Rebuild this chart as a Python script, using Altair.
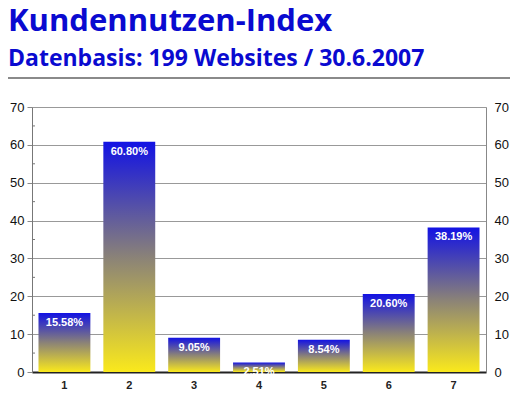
import altair as alt
import pandas as pd

categories = ["1", "2", "3", "4", "5", "6", "7"]
values = [15.58, 60.80, 9.05, 2.51, 8.54, 20.60, 38.19]
labels = ["15.58%", "60.80%", "9.05%", "2.51%", "8.54%", "20.60%", "38.19%"]
major_ticks = [0, 10, 20, 30, 40, 50, 60, 70]
minor_ticks = [5, 15, 25, 35, 45, 55, 65]

df = pd.DataFrame({"cat": categories, "value": values, "label": labels})
minor = pd.DataFrame({"v": minor_ticks})
sep = pd.DataFrame({"a": [0]})

grad = alt.Gradient(
    gradient="linear", x1=0, y1=0, x2=0, y2=1,
    stops=[
        alt.GradientStop(offset=0, color="#1212e4"),
        alt.GradientStop(offset=0.5, color="#8a8278"),
        alt.GradientStop(offset=1, color="#fae91c"),
    ],
)

yscale = alt.Scale(domain=[0, 70], nice=False)
x = alt.X(
    "cat:N", sort=categories,
    scale=alt.Scale(paddingInner=0.2, paddingOuter=0.1),
    axis=alt.Axis(title=None, labelAngle=0, ticks=False, domainColor="#222",
                  domainWidth=2, labelFont="Liberation Sans", labelFontWeight="bold",
                  labelFontSize=11, labelColor="#222", labelPadding=7),
)

bars = alt.Chart(df).mark_bar(color=grad).encode(
    x=x,
    y=alt.Y("value:Q", scale=yscale,
            axis=alt.Axis(title=None, values=major_ticks, grid=True, gridColor="#999",
                          tickSize=5, tickColor="#888", domainColor="#777",
                          labelFontSize=13, labelColor="#111", labelFont="Liberation Sans",
                          labelPadding=3)),
)

texts = alt.Chart(df).mark_text(color="white", fontWeight="bold", fontSize=11,
                                baseline="top", dy=4, font="Liberation Sans").encode(
    x=x,
    y=alt.Y("value:Q", scale=yscale, axis=None),
    text="label:N",
)

minors = alt.Chart(minor).mark_rule(color="#777").encode(
    y=alt.Y("v:Q", scale=yscale,
            axis=alt.Axis(orient="right", title=None, values=major_ticks, grid=False,
                          ticks=False, domainColor="#888", labelFontSize=13,
                          labelColor="#111", labelFont="Liberation Sans", labelPadding=8)),
    x=alt.value(0),
    x2=alt.value(3),
)

line = alt.Chart(sep).mark_rule(color="#8a8a8a", strokeWidth=2).encode(
    x=alt.value(-33), x2=alt.value(490), y=alt.value(-29)
)

chart = alt.layer(bars, texts, minors, line).resolve_axis(y="independent").properties(
    width=454, height=265,
    autosize="none",
    padding={"left": 24, "top": 99, "right": 24, "bottom": 20},
    title=alt.TitleParams(
        text="Kundennutzen-Index",
        subtitle="Datenbasis: 199 Websites / 30.6.2007",
        anchor="start", frame="group", dx=-24,
        font="Open Sans", fontSize=31, fontWeight="bold", color="#0a0ad0",
        subtitleFont="Open Sans", subtitleFontSize=23, subtitleFontWeight="bold",
        subtitleColor="#0a0ad0", subtitlePadding=10, offset=5,
    ),
).configure_view(stroke=None).configure(background="white")

chart.save("out.html", embed_options={"renderer": "svg", "actions": False})
